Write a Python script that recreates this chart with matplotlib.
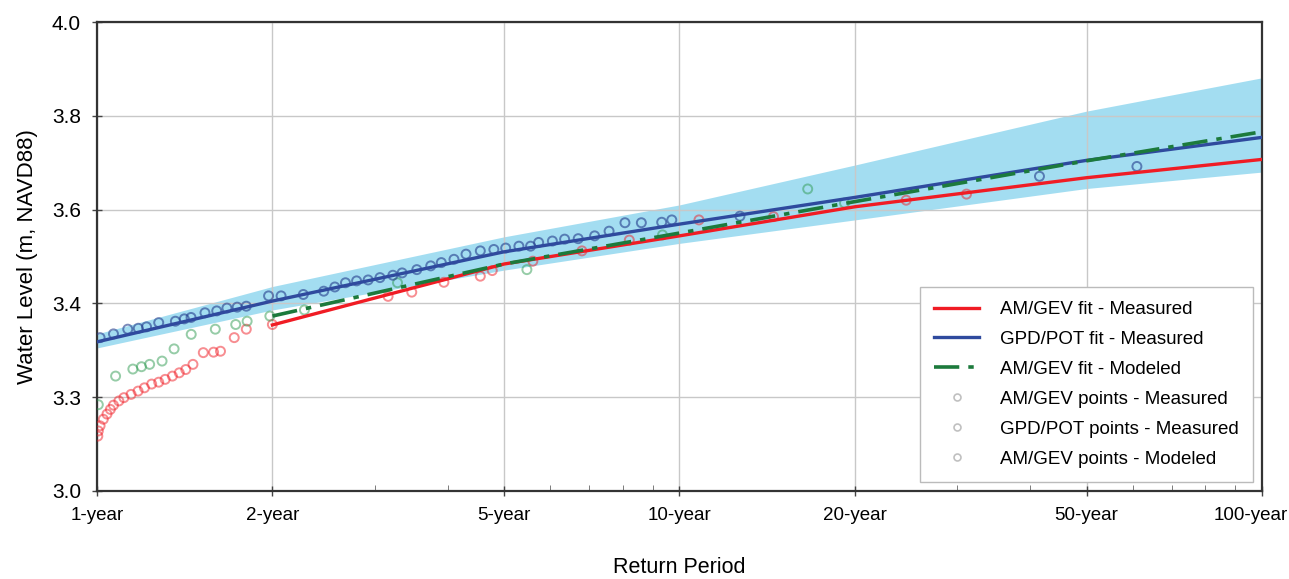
"""Return-period plot of water level: AM/GEV and GPD/POT fits with plotting-position points."""
import matplotlib
matplotlib.use("Agg")
import matplotlib.pyplot as plt
import matplotlib.transforms as mtransforms
from matplotlib.lines import Line2D

plt.rcParams["font.family"] = ["Liberation Sans", "DejaVu Sans"]

# fitted curves, read at the labelled return periods
FIT_T = [1, 2, 5, 10, 20, 50, 100]
GPD_FIT = [3.318, 3.405, 3.510, 3.569, 3.626, 3.705, 3.754]
GPD_LOW = [3.305, 3.386, 3.471, 3.528, 3.578, 3.645, 3.680]
GPD_HIGH = [3.335, 3.436, 3.542, 3.610, 3.695, 3.810, 3.881]

GEV_T = [2, 5, 10, 20, 50, 100]
GEV_MEAS_FIT = [3.354, 3.484, 3.544, 3.606, 3.668, 3.707]
GEV_MOD_FIT = [3.373, 3.484, 3.550, 3.617, 3.704, 3.766]

# AM/GEV points - Measured
GEV_MEAS_T = [1.003, 1.005, 1.012, 1.025, 1.040, 1.054, 1.067, 1.090, 1.112, 1.144,
              1.176, 1.206, 1.241, 1.276, 1.309, 1.347, 1.384, 1.420, 1.461, 1.522,
              1.585, 1.629, 1.720, 1.804, 2.0, 3.16, 3.47, 3.94, 4.55, 4.77,
              5.6, 6.8, 8.2, 10.8, 14.5, 24.5, 31.1]
GEV_MEAS_Y = [3.117, 3.128, 3.139, 3.153, 3.164, 3.174, 3.183, 3.192, 3.199, 3.206,
              3.213, 3.220, 3.228, 3.232, 3.238, 3.245, 3.252, 3.259, 3.270, 3.295,
              3.296, 3.298, 3.327, 3.345, 3.355, 3.415, 3.424, 3.445, 3.458, 3.470,
              3.490, 3.512, 3.535, 3.578, 3.585, 3.620, 3.633]

# GPD/POT points - Measured
GPD_PTS_T = [1.012, 1.067, 1.129, 1.177, 1.216, 1.276, 1.363, 1.412, 1.450, 1.532,
             1.605, 1.671, 1.740, 1.804, 1.970, 2.07, 2.26, 2.45, 2.56, 2.67,
             2.79, 2.92, 3.06, 3.22, 3.34, 3.54, 3.74, 3.90, 4.10, 4.30,
             4.55, 4.80, 5.03, 5.30, 5.55, 5.73, 6.05, 6.35, 6.70, 7.15,
             7.57, 8.06, 8.60, 9.32, 9.70, 12.7, 41.5, 61.0]
GPD_PTS_Y = [3.327, 3.335, 3.345, 3.347, 3.350, 3.359, 3.362, 3.367, 3.370, 3.380,
             3.384, 3.390, 3.392, 3.394, 3.416, 3.416, 3.419, 3.426, 3.435, 3.444,
             3.448, 3.450, 3.455, 3.460, 3.465, 3.472, 3.480, 3.487, 3.494, 3.505,
             3.512, 3.515, 3.518, 3.522, 3.522, 3.530, 3.533, 3.537, 3.538, 3.544,
             3.554, 3.572, 3.572, 3.573, 3.578, 3.586, 3.671, 3.692]

# AM/GEV points - Modeled
GEV_MOD_T = [1.005, 1.076, 1.152, 1.192, 1.231, 1.293, 1.356, 1.451, 1.596, 1.730,
             1.810, 1.980, 2.27, 3.28, 5.47, 9.35, 16.6, 19.2]
GEV_MOD_Y = [3.184, 3.245, 3.260, 3.265, 3.270, 3.277, 3.303, 3.334, 3.345, 3.355,
             3.362, 3.373, 3.386, 3.444, 3.472, 3.546, 3.644, 3.614]

X_TICKS = [1, 2, 5, 10, 20, 50, 100]
X_LABELS = ["1-year", "2-year", "5-year", "10-year", "20-year", "50-year", "100-year"]
Y_TICKS = [3.0, 3.2, 3.4, 3.6, 3.8, 4.0]
Y_LABELS = ["3.0", "3.3", "3.4", "3.6", "3.8", "4.0"]

RED = "#f01c24"
BLUE = "#2f4a9e"
GREEN = "#1c7a3c"
GREEN_DASH = (0, (7, 2.5, 1.5, 2.5))


def main():
    fig = plt.figure(figsize=(12.89, 5.79), dpi=100)
    ax = fig.add_axes([0.0753, 0.152, 0.9037, 0.810])

    ax.fill_between(FIT_T, GPD_LOW, GPD_HIGH, color="#93d8ef", alpha=0.85, lw=0, zorder=1)

    ax.scatter(GEV_MEAS_T, GEV_MEAS_Y, s=42, facecolors="none", edgecolors=RED,
               linewidths=1.4, alpha=0.5, zorder=3)
    ax.scatter(GEV_MOD_T, GEV_MOD_Y, s=42, facecolors="none", edgecolors="#2e9a50",
               linewidths=1.4, alpha=0.5, zorder=3)
    ax.scatter(GPD_PTS_T, GPD_PTS_Y, s=42, facecolors="none", edgecolors="#243c8c",
               linewidths=1.4, alpha=0.6, zorder=3)

    ax.plot(GEV_T, GEV_MEAS_FIT, color=RED, lw=2.4, zorder=4)
    ax.plot(FIT_T, GPD_FIT, color=BLUE, lw=2.4, zorder=4)
    ax.plot(GEV_T, GEV_MOD_FIT, color=GREEN, lw=2.6, ls=GREEN_DASH, zorder=5)

    ax.set_xscale("log")
    ax.set_xlim(1, 100)
    ax.set_ylim(3.0, 4.0)
    ax.set_xticks(X_TICKS)
    ax.set_xticklabels(X_LABELS)
    ax.set_yticks(Y_TICKS)
    ax.set_yticklabels(Y_LABELS)
    ax.tick_params(axis="both", which="major", direction="inout",
                   length=7, width=1, color="#444444", pad=8)
    ax.tick_params(axis="x", which="major", labelsize=13.5)
    ax.tick_params(axis="y", which="major", labelsize=15)
    ax.tick_params(axis="x", which="minor", direction="in", length=4, color="#666666")
    ax.grid(which="major", color="#c8c8c8", lw=1)
    for sp in ax.spines.values():
        sp.set_color("#333333")
        sp.set_linewidth(1.6)

    # keep the last tick label inside the canvas, as in the original
    last = ax.get_xticklabels()[-1]
    last.set_transform(last.get_transform()
                       + mtransforms.ScaledTranslation(-0.11, 0, fig.dpi_scale_trans))

    ax.set_xlabel("Return Period", fontsize=15.5, labelpad=24)
    ax.set_ylabel("Water Level (m, NAVD88)", fontsize=16, labelpad=10)

    pt = dict(marker="o", ls="none", markersize=5, markerfacecolor="none",
              markeredgecolor="#c0c0c0", markeredgewidth=1.2)
    handles = [
        Line2D([], [], color=RED, lw=2.4),
        Line2D([], [], color=BLUE, lw=2.4),
        Line2D([], [], color=GREEN, lw=2.6, ls=GREEN_DASH),
        Line2D([], [], **pt),
        Line2D([], [], **pt),
        Line2D([], [], **pt),
    ]
    labels = ["AM/GEV fit - Measured", "GPD/POT fit - Measured", "AM/GEV fit - Modeled",
              "AM/GEV points - Measured", "GPD/POT points - Measured",
              "AM/GEV points - Modeled"]
    leg = ax.legend(handles, labels, loc="lower right", fontsize=13.5, fancybox=False,
                    framealpha=1, edgecolor="#bbbbbb", handlelength=2.4,
                    labelspacing=0.68, borderpad=0.75, borderaxespad=0.5,
                    handletextpad=1.1)
    leg.get_frame().set_linewidth(1.0)

    fig.savefig("out.png", dpi=100)


if __name__ == "__main__":
    main()
